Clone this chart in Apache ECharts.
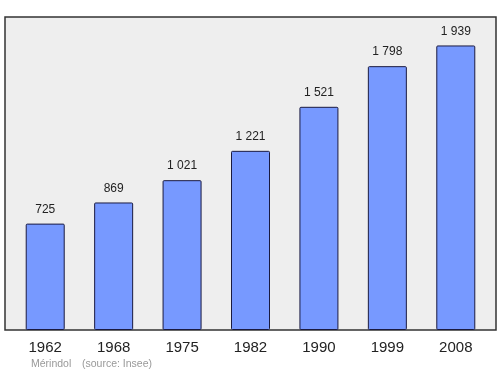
<!DOCTYPE html>
<html><head><meta charset="utf-8">
<script src="https://cdn.jsdelivr.net/npm/echarts@6/dist/echarts.min.js"></script>
<style>html,body{margin:0;padding:0;background:#fff}#c{width:500px;height:374px}</style>
</head><body><div id="c"></div>
<script>
const years = ['1962','1968','1975','1982','1990','1999','2008'];
const population = [725, 869, 1021, 1221, 1521, 1798, 1939];
const place = 'Mérindol';
const source = '(source: Insee)';
const yMax = 2133;

function fmt(v){ return String(v).replace(/\B(?=(\d{3})+(?!\d))/g, ' '); }

const FONT = '"Liberation Sans", Arial, sans-serif';
const chart = echarts.init(document.getElementById('c'));
chart.setOption({
  animation: false,
  grid: [
    {left: 5, top: 17, width: 491, height: 313, show: true, backgroundColor: '#eeeeee', borderColor: '#333333', borderWidth: 1.5, z: 0},
    {left: 11, top: 17, width: 479, height: 313}
  ],
  xAxis: [
    {gridIndex: 0, type: 'value', show: false},
    {gridIndex: 1, type: 'category', data: years, axisLine: {show: false}, axisTick: {show: false},
     axisLabel: {color: '#222', fontSize: 15, fontFamily: FONT, margin: 10}}
  ],
  yAxis: [
    {gridIndex: 0, type: 'value', show: false},
    {gridIndex: 1, type: 'value', min: 0, max: yMax, show: false}
  ],
  series: [{
    type: 'bar', xAxisIndex: 1, yAxisIndex: 1, data: population, barWidth: 39,
    itemStyle: {color: '#7799ff', borderColor: '#1a1a40', borderWidth: 1, borderRadius: 1},
    label: {show: true, position: 'top', distance: 8, color: '#222', fontSize: 12, fontFamily: FONT, formatter: p => fmt(p.value)}
  }],
  graphic: [
    {type: 'text', left: 31, top: 359, style: {text: place, fill: '#999999', fontSize: 10.5, fontFamily: FONT}},
    {type: 'text', left: 82, top: 359, style: {text: source, fill: '#999999', fontSize: 10.5, fontFamily: FONT}}
  ]
});
</script></body></html>
